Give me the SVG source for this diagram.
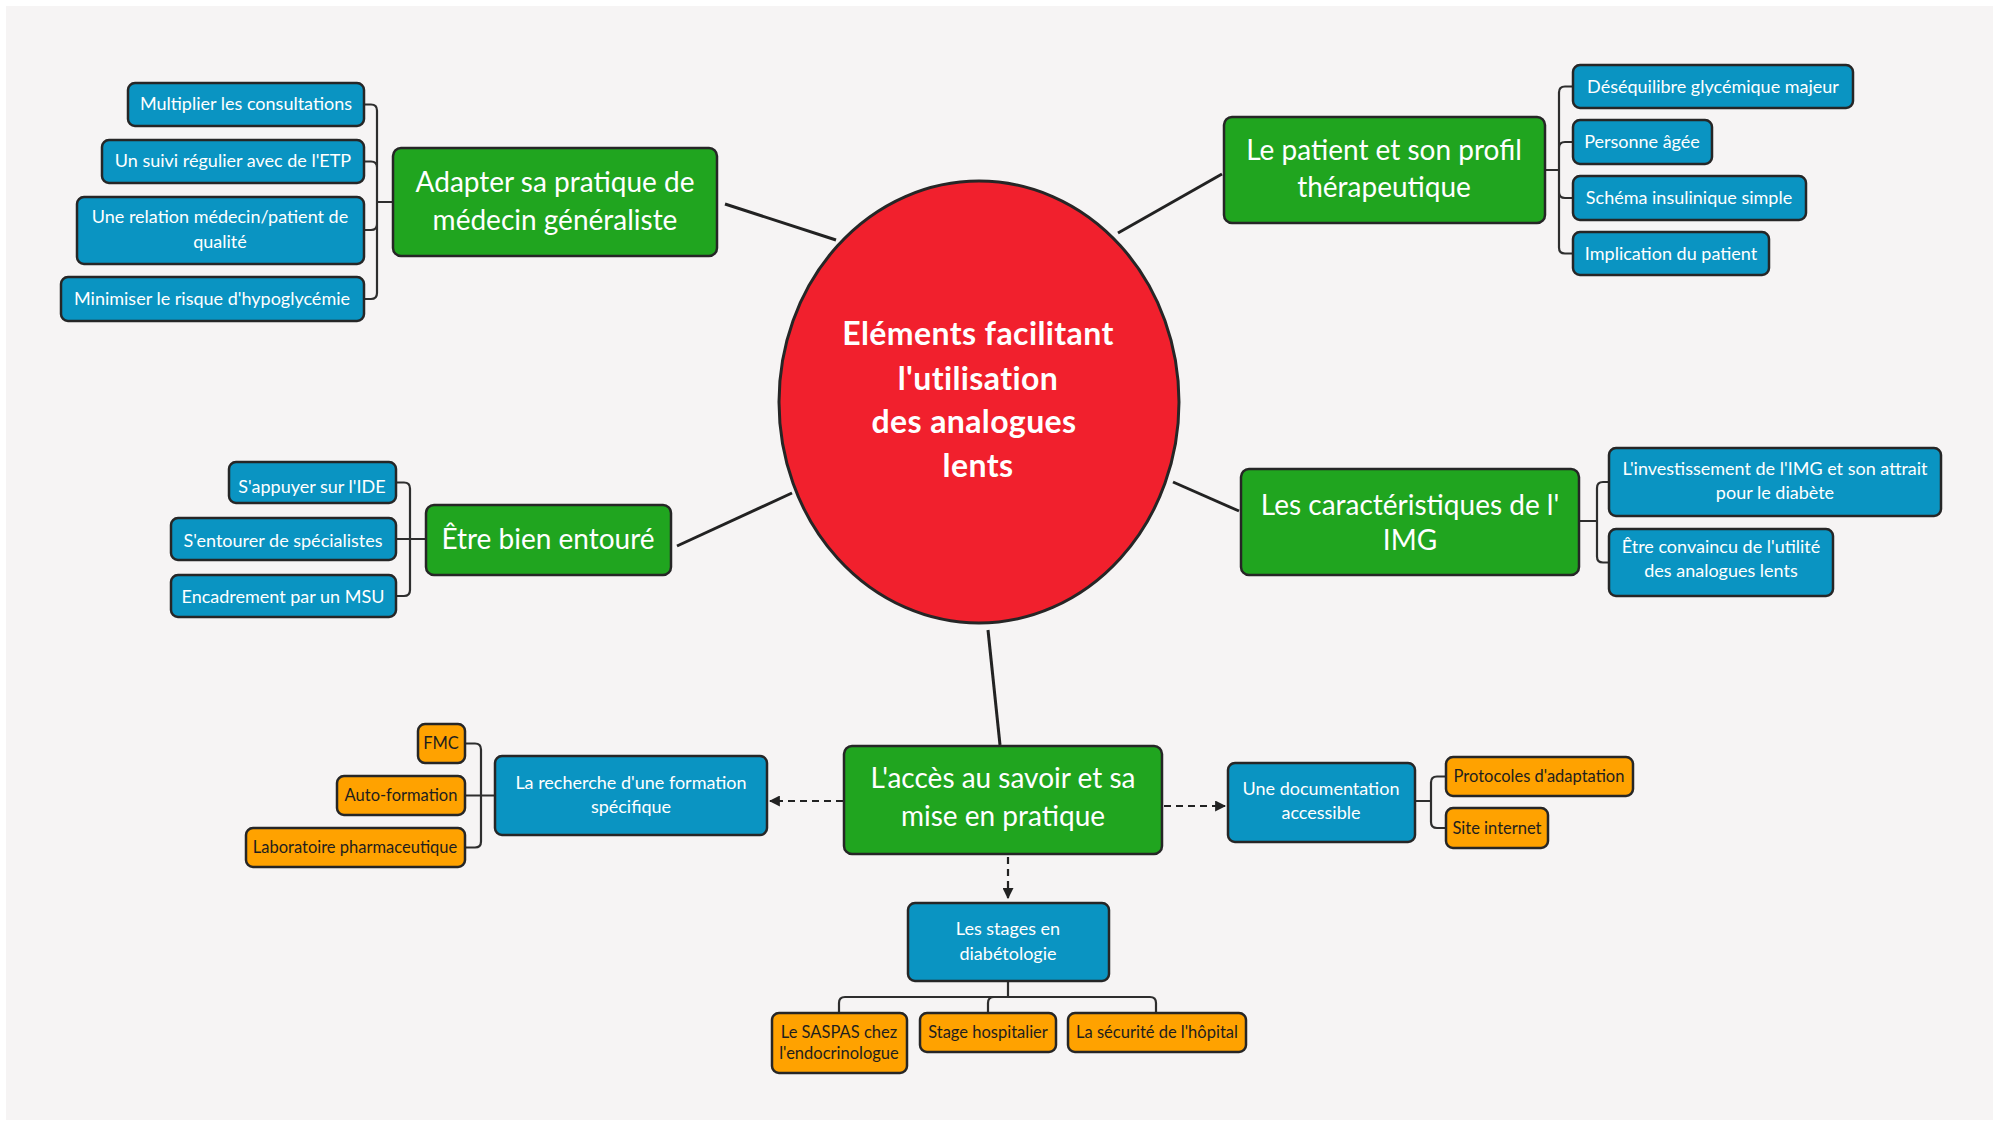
<svg xmlns="http://www.w3.org/2000/svg" width="1999" height="1126" viewBox="0 0 1999 1126">
<defs>
<marker id="arr" viewBox="0 0 10 10" refX="9" refY="5" markerWidth="5" markerHeight="5" orient="auto" markerUnits="strokeWidth">
<path d="M0,0 L10,5 L0,10 z" fill="#222"/>
</marker>
<style>
.g rect{fill:#20a51f;stroke:#262626;stroke-width:2.5}
.b rect{fill:#0a94c2;stroke:#262626;stroke-width:2.5}
.o rect{fill:#ffa200;stroke:#262626;stroke-width:2.5}
text{font-family:Lato,"Open Sans","Liberation Sans",sans-serif;text-anchor:middle}
.g text{fill:#fff;font-size:28px}
.b text{fill:#fff;font-size:18px}
.o text{fill:#1e1e1e;font-size:16.5px}
.c text{fill:#fff;font-size:32px;font-weight:bold;letter-spacing:0.4px}
.ln{stroke:#222;stroke-width:3;fill:none}
.br{stroke:#2e2e2e;stroke-width:2.2;fill:none}
.da{stroke:#222;stroke-width:2.2;fill:none;stroke-dasharray:7 5}
</style>
</defs>
<rect x="0" y="0" width="1999" height="1126" fill="#ffffff"/>
<rect x="6" y="6" width="1987" height="1114" fill="#f6f4f4"/>

<g id="connectors">
<line class="ln" x1="725" y1="204" x2="836" y2="240"/>
<line class="ln" x1="1118" y1="233" x2="1222" y2="174"/>
<line class="ln" x1="677" y1="546" x2="792" y2="493"/>
<line class="ln" x1="1173" y1="482" x2="1239" y2="511"/>
<line class="ln" x1="988" y1="630" x2="1000" y2="745"/>
<path class="br" d="M393,202 H377 M364,104.5 H371 Q377,104.5 377,110.5 V293 Q377,299 371,299 H364 M364,161.5 H371 Q377,161.5 377,167.5 M364,230 H371 Q377,230 377,224"/>
<path class="br" d="M1545,170 H1559 M1573,86.5 H1565 Q1559,86.5 1559,92.5 V247.5 Q1559,253.5 1565,253.5 H1573 M1573,142 H1565 Q1559,142 1559,148 M1573,198 H1565 Q1559,198 1559,192"/>
<path class="br" d="M426,539 H396 M396,482.5 H404 Q410,482.5 410,488.5 V590 Q410,596 404,596 H396"/>
<path class="br" d="M1579,521 H1597 M1609,482 H1603 Q1597,482 1597,488 V556.5 Q1597,562.5 1603,562.5 H1609"/>
<path class="br" d="M1415,801 H1431 M1446,776.5 H1437 Q1431,776.5 1431,782.5 V822 Q1431,828 1437,828 H1446"/>
<path class="br" d="M495,795.5 H465 M465,743.5 H475 Q481,743.5 481,749.5 V841.5 Q481,847.5 475,847.5 H465"/>
<path class="br" d="M1008,981 V997 M839,1013 V1003 Q839,997 845,997 H1150 Q1156,997 1156,1003 V1013 M988,1013 V1003 Q988,997 994,997"/>
<line class="da" x1="843" y1="801" x2="770" y2="801" marker-end="url(#arr)"/>
<line class="da" x1="1164" y1="806" x2="1225" y2="806" marker-end="url(#arr)"/>
<line class="da" x1="1008" y1="857" x2="1008" y2="898" marker-end="url(#arr)"/>
</g>

<g id="center" class="c">
<ellipse cx="979" cy="402" rx="200" ry="221" fill="#f1202d" stroke="#262626" stroke-width="3"/>
<text x="978" y="345">Eléments facilitant</text>
<text x="978" y="390">l'utilisation</text>
<text x="974" y="433">des analogues</text>
<text x="978" y="477">lents</text>
</g>

<g id="n-adapter" class="g"><rect x="393" y="148" width="324" height="108" rx="8"/><text x="555" y="192">Adapter sa pratique de</text><text x="555" y="230">médecin généraliste</text></g>
<g id="n-patient" class="g"><rect x="1224" y="117" width="321" height="106" rx="8"/><text x="1384" y="160">Le patient et son profil</text><text x="1384" y="197">thérapeutique</text></g>
<g id="n-entoure" class="g"><rect x="426" y="505" width="245" height="70" rx="8"/><text x="548" y="549">Être bien entouré</text></g>
<g id="n-img" class="g"><rect x="1241" y="469" width="338" height="106" rx="8"/><text x="1410" y="515">Les caractéristiques de l'</text><text x="1410" y="550">IMG</text></g>
<g id="n-acces" class="g"><rect x="844" y="746" width="318" height="108" rx="8"/><text x="1003" y="788">L'accès au savoir et sa</text><text x="1003" y="826">mise en pratique</text></g>

<g id="n-multiplier" class="b"><rect x="128" y="83" width="236" height="43" rx="7"/><text x="246" y="110">Multiplier les consultations</text></g>
<g id="n-suivi" class="b"><rect x="102" y="140" width="262" height="43" rx="7"/><text x="233" y="167">Un suivi régulier avec de l'ETP</text></g>
<g id="n-relation" class="b"><rect x="77" y="197" width="287" height="67" rx="7"/><text x="220" y="223">Une relation médecin/patient de</text><text x="220" y="248">qualité</text></g>
<g id="n-minimiser" class="b"><rect x="61" y="277" width="303" height="44" rx="7"/><text x="212" y="305">Minimiser le risque d'hypoglycémie</text></g>

<g id="n-desequilibre" class="b"><rect x="1573" y="65" width="280" height="43" rx="7"/><text x="1713" y="93">Déséquilibre glycémique majeur</text></g>
<g id="n-agee" class="b"><rect x="1573" y="120" width="139" height="44" rx="7"/><text x="1642" y="148">Personne âgée</text></g>
<g id="n-schema" class="b"><rect x="1573" y="176" width="233" height="44" rx="7"/><text x="1689" y="204">Schéma insulinique simple</text></g>
<g id="n-implication" class="b"><rect x="1573" y="232" width="196" height="43" rx="7"/><text x="1671" y="260">Implication du patient</text></g>

<g id="n-ide" class="b"><rect x="229" y="462" width="167" height="41" rx="7"/><text x="312" y="493">S'appuyer sur l'IDE</text></g>
<g id="n-specialistes" class="b"><rect x="171" y="518" width="225" height="42" rx="7"/><text x="283" y="547">S'entourer de spécialistes</text></g>
<g id="n-msu" class="b"><rect x="171" y="575" width="225" height="42" rx="7"/><text x="283" y="603">Encadrement par un MSU</text></g>

<g id="n-investissement" class="b"><rect x="1609" y="448" width="332" height="68" rx="7"/><text x="1775" y="475">L'investissement de l'IMG et son attrait</text><text x="1775" y="499">pour le diabète</text></g>
<g id="n-convaincu" class="b"><rect x="1609" y="529" width="224" height="67" rx="7"/><text x="1721" y="553">Être convaincu de l'utilité</text><text x="1721" y="577">des analogues lents</text></g>

<g id="n-documentation" class="b"><rect x="1228" y="763" width="187" height="79" rx="7"/><text x="1321" y="795">Une documentation</text><text x="1321" y="819">accessible</text></g>
<g id="n-recherche" class="b"><rect x="495" y="756" width="272" height="79" rx="7"/><text x="631" y="789">La recherche d'une formation</text><text x="631" y="813">spécifique</text></g>
<g id="n-stages" class="b"><rect x="908" y="903" width="201" height="78" rx="7"/><text x="1008" y="935">Les stages en</text><text x="1008" y="960">diabétologie</text></g>

<g id="n-protocoles" class="o"><rect x="1446" y="757" width="187" height="39" rx="7"/><text x="1539" y="782">Protocoles d'adaptation</text></g>
<g id="n-site" class="o"><rect x="1446" y="808" width="102" height="40" rx="7"/><text x="1497" y="834">Site internet</text></g>
<g id="n-fmc" class="o"><rect x="418" y="724" width="47" height="39" rx="7"/><text x="441" y="749">FMC</text></g>
<g id="n-autoformation" class="o"><rect x="337" y="776" width="128" height="39" rx="7"/><text x="401" y="801">Auto-formation</text></g>
<g id="n-laboratoire" class="o"><rect x="246" y="828" width="219" height="39" rx="7"/><text x="355" y="853">Laboratoire pharmaceutique</text></g>
<g id="n-saspas" class="o"><rect x="772" y="1013" width="135" height="60" rx="7"/><text x="839" y="1038">Le SASPAS chez</text><text x="839" y="1059">l'endocrinologue</text></g>
<g id="n-hospitalier" class="o"><rect x="920" y="1013" width="136" height="39" rx="7"/><text x="988" y="1038">Stage hospitalier</text></g>
<g id="n-securite" class="o"><rect x="1068" y="1013" width="178" height="39" rx="7"/><text x="1157" y="1038">La sécurité de l'hôpital</text></g>
</svg>
